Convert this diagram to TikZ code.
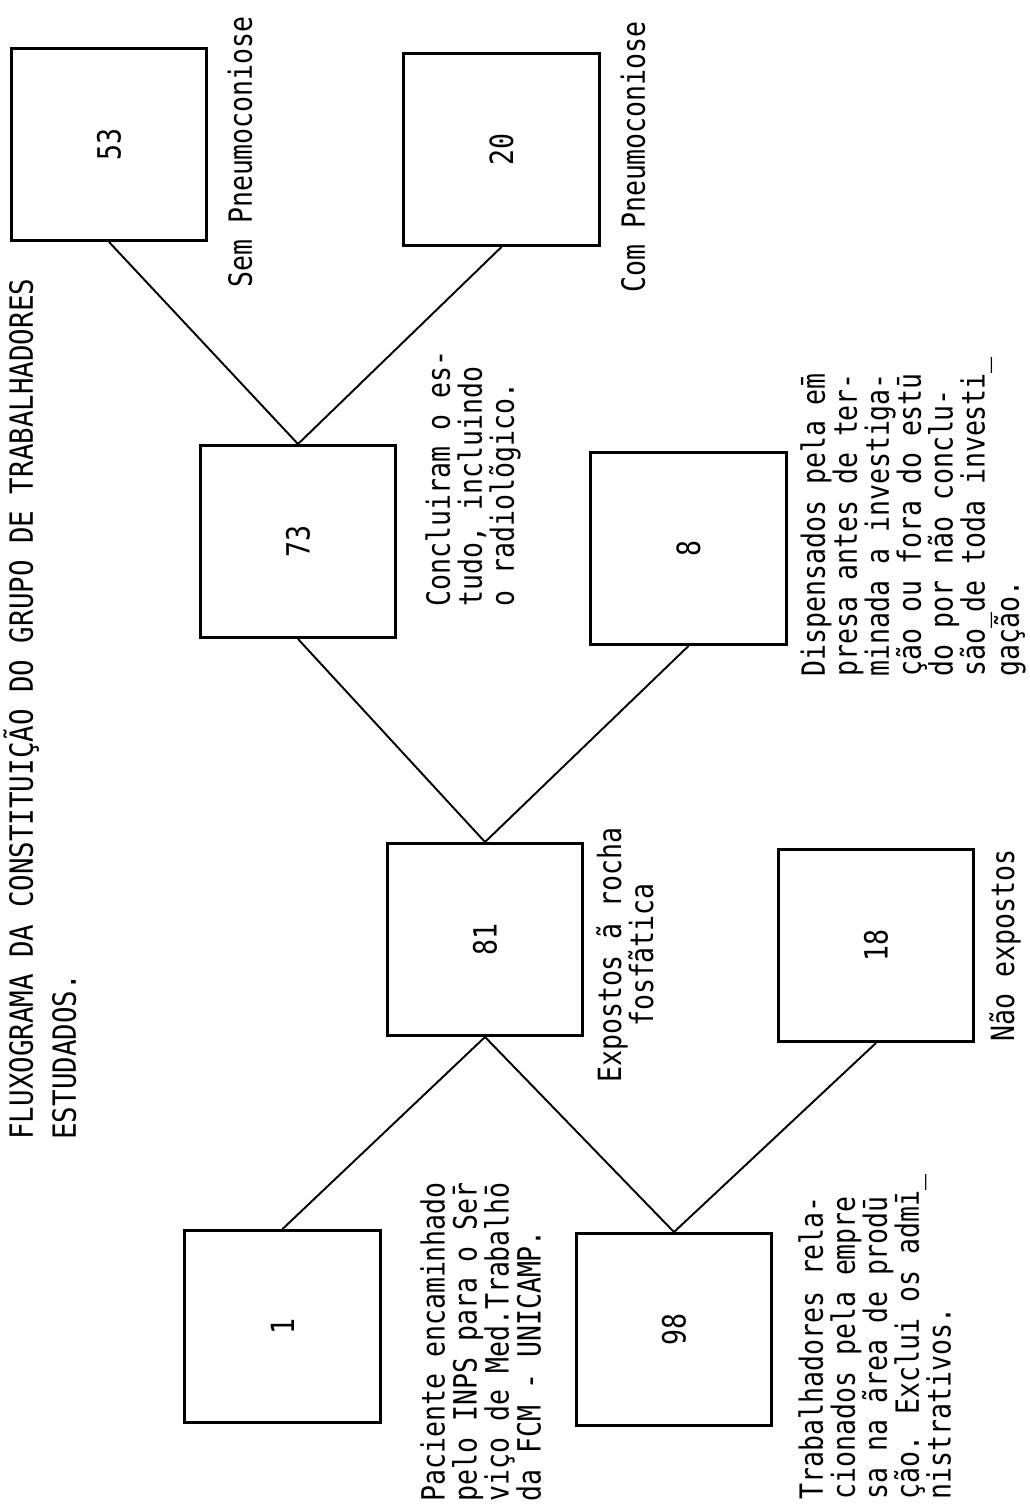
\documentclass[tikz,border=0pt]{standalone}
\usepackage{fontspec}
\usepackage{graphicx}
\newfontfamily\tw[FakeStretch=0.83]{DejaVu Sans Mono}
\newfontfamily\twt[FakeStretch=0.86]{DejaVu Sans Mono}
\tikzset{
  box/.style={draw, line width=1.7pt, minimum width=3.92cm, minimum height=3.84cm, inner sep=0pt, font=\tw\fontsize{18.2pt}{18.2pt}\selectfont},
  conn/.style={line width=1.1pt},
  lbl/.style={rotate=90, inner sep=0pt, align=left, font=\tw\fontsize{18.2pt}{18.2pt}\selectfont},
  clbl/.style={rotate=90, inner sep=0pt, align=center, font=\tw\fontsize{18.2pt}{18.2pt}\selectfont},
  ttl/.style={rotate=90, inner sep=0pt, align=left, font=\twt\fontsize{18.2pt}{24.5pt}\selectfont}
}
\begin{document}
\begin{tikzpicture}[x=0.02cm,y=-0.02cm]
\useasboundingbox (0,0) rectangle (1029,1508);
% title
\node[ttl, anchor=north west] (title) at (3,1140) {FLUXOGRAMA DA CONSTITUIÇÃO DO GRUPO DE TRABALHADORES\\ESTUDADOS.};
% boxes
\node[box] (b53) at (109,144.5) {\rotatebox{90}{53}};
\node[box] (b20) at (501.5,149.5) {\rotatebox{90}{20}};
\node[box] (b73) at (298,541.5) {\rotatebox{90}{73}};
\node[box] (b8) at (688.5,548.5) {\rotatebox{90}{8}};
\node[box] (b81) at (485,939.5) {\rotatebox{90}{81}};
\node[box] (b18) at (876,945.5) {\rotatebox{90}{18}};
\node[box] (b1) at (282.5,1326.5) {\rotatebox{90}{1}};
\node[box] (b98) at (674,1329.5) {\rotatebox{90}{98}};
% connectors
\draw[conn] (b53.south) -- (b73.north);
\draw[conn] (b20.south) -- (b73.north);
\draw[conn] (b73.south) -- (b81.north);
\draw[conn] (b8.south) -- (b81.north);
\draw[conn] (b81.south) -- (b1.north);
\draw[conn] (b81.south) -- (b98.north);
\draw[conn] (b18.south) -- (b98.north);
% labels
\node[clbl] (l53) at (240,152) {Sem Pneumoconiose};
\node[clbl] (l20) at (633,157) {Com Pneumoconiose};
\node[lbl, anchor=north west] (l73) at (425,607) {Concluiram o es-\\tudo, incluindo\\o radiolõgico.};
\node[lbl, anchor=north west] (l8) at (800,677) {Dispensados pela em̄\\presa antes de ter-\\minada a investiga-\\ção ou fora do estū\\do por não  conclu-\\são\_de toda investi\_\\gação.};
\node[clbl] (l81) at (625,955) {Expostos ã rocha\\fosfãtica};
\node[clbl] (l18) at (1005,945.5) {Não expostos};
\node[lbl, anchor=north west] (l1) at (420,1502) {Paciente encaminhado\\pelo INPS para o Ser̄\\viço de Med.Trabalhō\\da FCM - UNICAMP.};
\node[lbl, anchor=north west] (l98) at (798,1500) {Trabalhadores rela-\\cionados pela empre\\sa na ãrea de prodū\\ção. Exclui os admī\_\\nistrativos.};
\end{tikzpicture}
\end{document}
